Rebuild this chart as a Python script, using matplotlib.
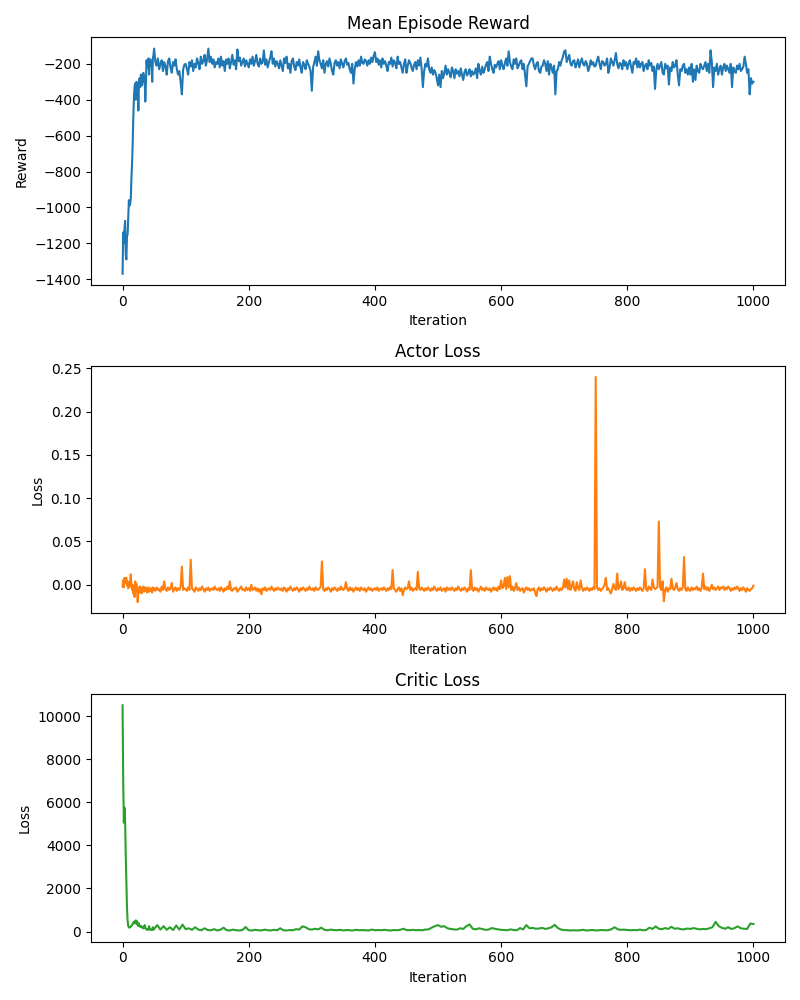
import numpy as np
import matplotlib
matplotlib.use("Agg")
import matplotlib.pyplot as plt

iter_fine = list(range(0, 50)) + list(range(50, 1001, 2))
iter_coarse = list(range(0, 50)) + list(range(50, 1001, 5))

# Mean Episode Reward (iter_fine)
reward = [
    -1370, -1140, -1200, -1120, -1075, -1260, -1290, -1160, -1150, -1050,
    -960, -990, -980, -950, -840, -760, -650, -500, -390, -330,
    -310, -400, -300, -350, -310, -460, -300, -280, -330, -260,
    -290, -320, -270, -250, -300, -270, -410, -310, -180, -220,
    -200, -170, -260, -190, -175, -210, -185, -300, -170, -150,
    # 50 - 98
    -115, -190, -210, -170, -230, -200, -180, -240, -190, -215, -260, -185, -170,
    -220, -250, -190, -210, -175, -230, -260, -240, -300, -370, -230, -205,
    # 100 - 148
    -200, -230, -260, -190, -215, -180, -240, -200, -220, -170, -195, -230, -160,
    -200, -185, -150, -210, -175, -115, -190, -160, -200, -175, -220, -190,
    # 150 - 198
    -200, -170, -220, -160, -210, -185, -240, -175, -200, -170, -225, -190, -150,
    -205, -180, -230, -120, -185, -165, -210, -190, -170, -215, -180, -200,
    # 200 - 248
    -220, -175, -200, -160, -210, -185, -150, -200, -215, -170, -200, -190, -125,
    -205, -175, -220, -190, -165, -130, -200, -170, -215, -185, -200, -225,
    # 250 - 298
    -180, -210, -240, -170, -195, -160, -225, -200, -250, -185, -170, -215, -235,
    -190, -210, -175, -220, -250, -190, -205, -230, -180, -200, -215, -240,
    # 300 - 348
    -350, -220, -190, -160, -210, -130, -180, -200, -225, -180, -250, -200, -185,
    -215, -170, -200, -240, -260, -195, -180, -210, -190, -225, -175, -200,
    # 350 - 398
    -220, -185, -170, -205, -195, -230, -250, -200, -310, -230, -190, -215, -180,
    -210, -160, -195, -200, -175, -185, -210, -180, -200, -165, -190, -155,
    # 400 - 448
    -135, -190, -170, -205, -180, -220, -170, -200, -185, -210, -240, -190, -200,
    -165, -215, -180, -195, -225, -160, -200, -190, -220, -250, -200, -175,
    # 450 - 498
    -250, -210, -180, -195, -220, -240, -205, -190, -230, -180, -210, -165, -225,
    -330, -240, -200, -215, -170, -230, -250, -220, -260, -235, -250, -280,
    # 500 - 548
    -320, -260, -330, -240, -280, -250, -210, -260, -230, -250, -275, -220, -240,
    -280, -230, -255, -240, -270, -225, -260, -290, -245, -230, -265, -250,
    # 550 - 598
    -230, -270, -240, -260, -250, -225, -280, -200, -240, -260, -215, -250, -230,
    -205, -190, -240, -160, -200, -230, -250, -205, -220, -200, -185, -230,
    # 600 - 648
    -180, -210, -230, -195, -170, -210, -130, -190, -215, -230, -175, -200, -170,
    -225, -210, -190, -180, -230, -200, -260, -325, -215, -200, -185, -170,
    # 650 - 698
    -170, -210, -230, -200, -190, -240, -250, -215, -210, -180, -200, -240, -185,
    -260, -200, -220, -250, -210, -370, -240, -230, -190, -210, -180, -160,
    # 700 - 748
    -130, -125, -190, -170, -150, -200, -210, -185, -180, -220, -200, -175, -220,
    -190, -170, -200, -210, -185, -200, -240, -220, -180, -205, -190, -215,
    # 750 - 798
    -210, -180, -160, -200, -230, -185, -190, -210, -200, -170, -250, -220, -170,
    -190, -210, -180, -140, -200, -225, -195, -200, -230, -180, -210, -190,
    # 800 - 848
    -230, -200, -180, -215, -250, -190, -200, -170, -220, -185, -220, -200, -190,
    -240, -210, -200, -230, -180, -210, -195, -240, -215, -340, -230, -200,
    # 850 - 898
    -230, -210, -190, -250, -260, -200, -225, -210, -315, -220, -240, -190, -220,
    -210, -180, -260, -320, -230, -240, -210, -200, -250, -230, -260, -220,
    # 900 - 948
    -260, -200, -300, -230, -290, -210, -240, -250, -200, -220, -230, -210, -190,
    -240, -200, -250, -125, -190, -330, -220, -240, -200, -260, -230, -210,
    # 950 - 1000
    -260, -220, -200, -240, -210, -230, -250, -200, -330, -220, -240, -250, -210,
    -230, -200, -240, -230, -215, -160, -200, -250, -230, -370, -280, -310,
    -300,
]

# Actor Loss (iter_fine)
actor_loss = [
    -0.002, 0.005, -0.003, 0.008, 0.002, 0.006, 0.008, -0.001, 0.004, -0.004,
    0.003, -0.002, 0.005, 0.012, 0.001, -0.006, 0.000, -0.010, -0.004, -0.014,
    0.004, -0.003, 0.001, -0.008, -0.020, -0.005, -0.009, -0.002, -0.007, -0.003,
    -0.010, -0.004, -0.006, -0.002, -0.008, -0.005, -0.003, -0.007, -0.004, -0.009,
    -0.006, -0.003, -0.008, -0.005, -0.007, -0.004, -0.006, -0.009, -0.003, -0.006,
    # 50 - 98
    -0.004, -0.007, -0.003, -0.006, -0.005, -0.008, -0.002, -0.006, 0.004, -0.005,
    -0.007, -0.003, -0.006, -0.004, 0.002, -0.008, -0.005, -0.003, -0.007, -0.004,
    -0.006, -0.002, 0.021, -0.006, -0.004,
    # 100 - 148
    -0.005, -0.007, -0.003, -0.006, 0.029, -0.004, -0.006, -0.008, -0.003, -0.005,
    -0.007, -0.004, -0.006, -0.002, -0.005, -0.008, -0.004, -0.006, -0.003, -0.007,
    -0.005, -0.004, -0.006, -0.002, -0.005,
    # 150 - 198
    -0.006, -0.004, -0.007, -0.003, -0.005, -0.008, -0.004, -0.006, -0.002, -0.005,
    0.004, -0.006, -0.007, -0.004, -0.005, -0.003, -0.008, -0.006, -0.004, -0.002,
    -0.006, -0.005, -0.007, -0.003, -0.006,
    # 200 - 248
    -0.004, -0.007, 0.000, -0.006, -0.005, -0.003, -0.007, -0.004, -0.008, -0.005,
    -0.011, -0.004, -0.006, -0.003, -0.007, -0.005, -0.004, -0.006, -0.002, -0.005,
    -0.007, -0.004, -0.006, -0.003, -0.005,
    # 250 - 298
    -0.006, -0.004, -0.007, -0.003, -0.005, -0.008, -0.004, -0.006, -0.002, -0.005,
    -0.007, -0.004, -0.006, -0.003, -0.005, -0.008, -0.004, -0.006, -0.003, -0.005,
    -0.007, -0.004, -0.006, -0.002, -0.005,
    # 300 - 348
    -0.006, -0.004, -0.007, -0.003, -0.005, -0.006, -0.004, -0.002, 0.027, -0.005,
    -0.007, -0.004, -0.006, -0.003, -0.005, -0.008, -0.004, -0.006, -0.003, -0.005,
    -0.007, -0.004, -0.006, -0.002, -0.005,
    # 350 - 398
    -0.006, -0.004, 0.003, -0.005, -0.007, -0.003, -0.006, -0.004, -0.008, -0.005,
    -0.003, -0.006, -0.004, -0.007, -0.003, -0.005, -0.006, -0.004, -0.008, -0.005,
    -0.003, -0.006, -0.004, -0.007, -0.005,
    # 400 - 448
    -0.004, -0.006, -0.003, -0.007, -0.005, -0.004, -0.006, -0.003, -0.005, -0.007,
    -0.004, -0.006, -0.003, -0.005, 0.017, -0.004, -0.006, -0.008, -0.005, -0.003,
    -0.007, -0.004, -0.012, -0.006, -0.003,
    # 450 - 498
    -0.005, -0.004, 0.004, -0.006, -0.003, -0.007, -0.005, -0.004, -0.006, 0.015,
    -0.004, -0.006, -0.003, -0.005, -0.007, -0.004, -0.006, -0.003, -0.005, -0.007,
    -0.004, -0.006, -0.002, -0.005, -0.007,
    # 500 - 548
    -0.004, -0.006, -0.003, -0.007, -0.005, -0.004, -0.008, -0.003, -0.006, -0.004,
    -0.006, -0.003, -0.005, -0.007, -0.004, -0.006, -0.002, -0.005, -0.007, -0.004,
    -0.006, -0.003, -0.005, -0.008, -0.004,
    # 550 - 598
    -0.006, 0.017, -0.005, -0.007, -0.003, -0.006, -0.004, -0.008, -0.005, -0.002,
    -0.006, -0.004, -0.007, -0.003, -0.005, -0.006, -0.004, -0.008, -0.005, -0.003,
    -0.006, -0.004, -0.007, -0.002, -0.005,
    # 600 - 648
    0.005, -0.004, -0.002, 0.008, -0.005, 0.009, -0.003, 0.010, -0.006, -0.002,
    -0.007, -0.004, 0.002, -0.006, -0.003, -0.007, -0.005, -0.004, -0.009, -0.005,
    -0.003, -0.006, -0.004, -0.007, -0.005,
    # 650 - 698
    -0.006, -0.004, -0.009, -0.013, -0.005, -0.003, -0.007, -0.004, -0.006, -0.003,
    -0.005, -0.008, -0.004, -0.006, -0.003, -0.005, -0.007, -0.004, -0.006, -0.002,
    -0.005, -0.007, -0.004, -0.006, -0.003,
    # 700 - 748
    0.006, -0.003, 0.007, -0.005, 0.005, -0.006, -0.002, 0.004, -0.005, -0.007,
    0.003, -0.004, -0.006, 0.005, -0.003, -0.007, -0.004, -0.006, -0.003, -0.005,
    -0.007, -0.004, -0.006, -0.003, -0.005,
    # 750 - 798
    0.240, -0.003, -0.006, -0.004, -0.007, -0.005, -0.003, 0.000, 0.008, -0.006,
    -0.004, -0.007, -0.010, -0.005, 0.001, -0.004, -0.006, 0.013, -0.005, -0.003,
    0.004, -0.006, -0.004, 0.003, -0.005,
    # 800 - 848
    -0.006, -0.003, -0.007, -0.004, -0.006, -0.003, -0.005, -0.007, -0.004, -0.006,
    -0.003, -0.005, -0.007, -0.004, 0.018, -0.005, -0.007, -0.002, -0.004, -0.006,
    0.006, -0.003, -0.005, -0.004, -0.002,
    # 850 - 898
    0.073, -0.003, -0.006, 0.004, -0.019, -0.006, -0.003, -0.008, -0.004, -0.005,
    0.007, -0.004, -0.006, -0.003, 0.002, -0.005, -0.007, -0.004, -0.006, -0.003,
    0.032, -0.005, -0.007, -0.003, -0.006,
    # 900 - 948
    -0.007, -0.003, -0.006, -0.004, -0.005, -0.002, -0.006, -0.004, -0.007, -0.003,
    0.013, -0.005, -0.002, -0.006, -0.003, -0.007, -0.004, 0.000, -0.005, -0.003,
    -0.006, -0.004, -0.002, -0.006, -0.003,
    # 950 - 1000
    -0.004, -0.002, -0.006, -0.003, -0.005, -0.002, -0.004, -0.007, -0.004, -0.006,
    -0.003, -0.005, -0.002, -0.004, -0.007, -0.004, -0.006, -0.003, -0.005, -0.008,
    -0.004, -0.006, -0.007, -0.005, -0.004,
    -0.001,
]

# Critic Loss (iter_coarse)
critic_loss = [
    10500, 7000, 5050, 5750, 5200, 3600, 2300, 1100, 500, 250,
    200, 180, 200, 230, 260, 300, 350, 420, 380, 470,
    400, 520, 350, 480, 300, 260, 380, 250, 220, 260,
    200, 180, 220, 160, 150, 300, 180, 130, 90, 100,
    80, 90, 250, 120, 80, 90, 70, 80, 200, 90,
    120, 300, 90, 250, 80, 200, 70, 280, 90, 320,
    110, 150, 80, 200, 90, 60, 150, 70, 60, 110,
    50, 80, 180, 60, 50, 90, 60, 50, 70, 210,
    60, 50, 80, 60, 50, 90, 60, 50, 80, 60,
    150, 60, 50, 70, 60, 110, 90, 240, 200, 110,
    90, 130, 100, 180, 80, 60, 90, 70, 60, 80,
    50, 70, 60, 50, 80, 60, 70, 60, 50, 90,
    60, 70, 60, 80, 60, 50, 70, 60, 80, 130,
    70, 60, 80, 60, 70, 60, 90, 100, 180, 250,
    300, 220, 250, 150, 120, 100, 90, 150, 120, 250,
    330, 130, 100, 150, 120, 80, 90, 160, 130, 100,
    80, 70, 60, 100, 70, 60, 160, 100, 300, 150,
    170, 130, 140, 170, 120, 150, 200, 310, 160, 90,
    70, 60, 50, 60, 50, 60, 80, 50, 60, 70,
    50, 60, 70, 60, 60, 110, 200, 100, 80, 90,
    70, 60, 70, 60, 90, 60, 70, 180, 120, 240,
    130, 110, 160, 120, 220, 130, 150, 110, 100, 140,
    120, 160, 130, 100, 120, 110, 150, 200, 450, 250,
    170, 130, 200, 120, 160, 240, 150, 130, 120, 370,
    350,
]

fig, (ax1, ax2, ax3) = plt.subplots(3, 1, figsize=(8, 10), dpi=100)

ax1.plot(iter_fine, reward, color='C0')
ax1.set_title('Mean Episode Reward')
ax1.set_xlabel('Iteration')
ax1.set_ylabel('Reward')

ax2.plot(iter_fine, actor_loss, color='C1')
ax2.set_title('Actor Loss')
ax2.set_xlabel('Iteration')
ax2.set_ylabel('Loss')

ax3.plot(iter_coarse, critic_loss, color='C2')
ax3.set_title('Critic Loss')
ax3.set_xlabel('Iteration')
ax3.set_ylabel('Loss')

fig.tight_layout()
fig.savefig('out.png')
